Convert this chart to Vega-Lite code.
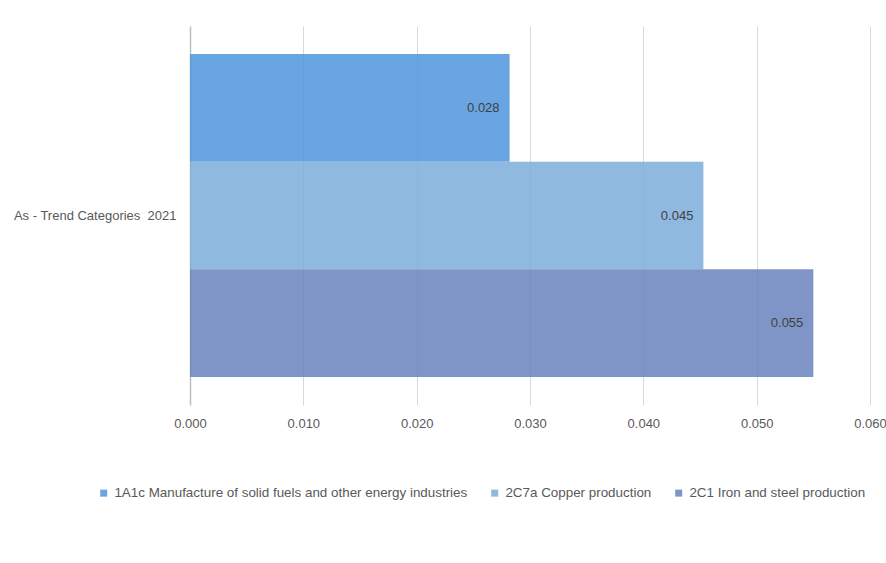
{
  "$schema": "https://vega.github.io/schema/vega-lite/v6.json",
  "width": 680,
  "height": 379,
  "autosize": "none",
  "padding": {"left": 190, "top": 26, "right": 16, "bottom": 158},
  "background": "white",
  "config": {
    "font": "Liberation Sans",
    "view": {"stroke": null},
    "axis": {"labelFont": "Liberation Sans", "labelFontSize": 13, "labelColor": "#595959"},
    "legend": {"labelFont": "Liberation Sans", "labelFontSize": 13.4, "labelColor": "#595959", "labelLimit": 0}
  },
  "data": {
    "values": [
      {"category": "As - Trend Categories\u00a0 2021", "series": "1A1c Manufacture of solid fuels and other energy industries", "value": 0.0282},
      {"category": "As - Trend Categories\u00a0 2021", "series": "2C7a Copper production", "value": 0.0453},
      {"category": "As - Trend Categories\u00a0 2021", "series": "2C1 Iron and steel production", "value": 0.055}
    ]
  },
  "encoding": {
    "y": {
      "field": "category", "type": "nominal", "title": null,
      "scale": {"paddingInner": 0, "paddingOuter": 0.0864},
      "axis": {"ticks": false, "domain": true, "domainColor": "#bfbfbf", "domainWidth": 1.5, "labelPadding": 14, "grid": false, "labelLimit": 0}
    },
    "yOffset": {
      "field": "series", "type": "nominal",
      "sort": ["1A1c Manufacture of solid fuels and other energy industries", "2C7a Copper production", "2C1 Iron and steel production"],
      "scale": {"paddingInner": 0, "paddingOuter": 0}
    },
    "x": {
      "field": "value", "type": "quantitative", "title": null,
      "scale": {"domain": [0, 0.06], "nice": false},
      "axis": {"values": [0, 0.01, 0.02, 0.03, 0.04, 0.05, 0.06], "format": ".3f", "domain": false, "ticks": false, "grid": true, "gridColor": "#d9d9d9", "labelPadding": 12, "labelFlush": false}
    }
  },
  "layer": [
    {
      "mark": {"type": "bar", "opacity": 0.85},
      "encoding": {
        "color": {
          "field": "series", "type": "nominal",
          "sort": ["1A1c Manufacture of solid fuels and other energy industries", "2C7a Copper production", "2C1 Iron and steel production"],
          "scale": {"range": ["#4f95dd", "#7cadd9", "#6982bd"]},
          "legend": {"title": null, "orient": "none", "direction": "horizontal", "legendX": -93, "legendY": 460, "symbolType": "square", "symbolSize": 49, "symbolStrokeWidth": 0, "labelOffset": 4, "columnPadding": 20, "symbolOpacity": 0.85}
        }
      }
    },
    {
      "mark": {"type": "text", "align": "right", "dx": -10, "fontSize": 13, "color": "#404040", "font": "Liberation Sans"},
      "encoding": {"text": {"field": "value", "type": "quantitative", "format": ".3f"}}
    }
  ]
}
